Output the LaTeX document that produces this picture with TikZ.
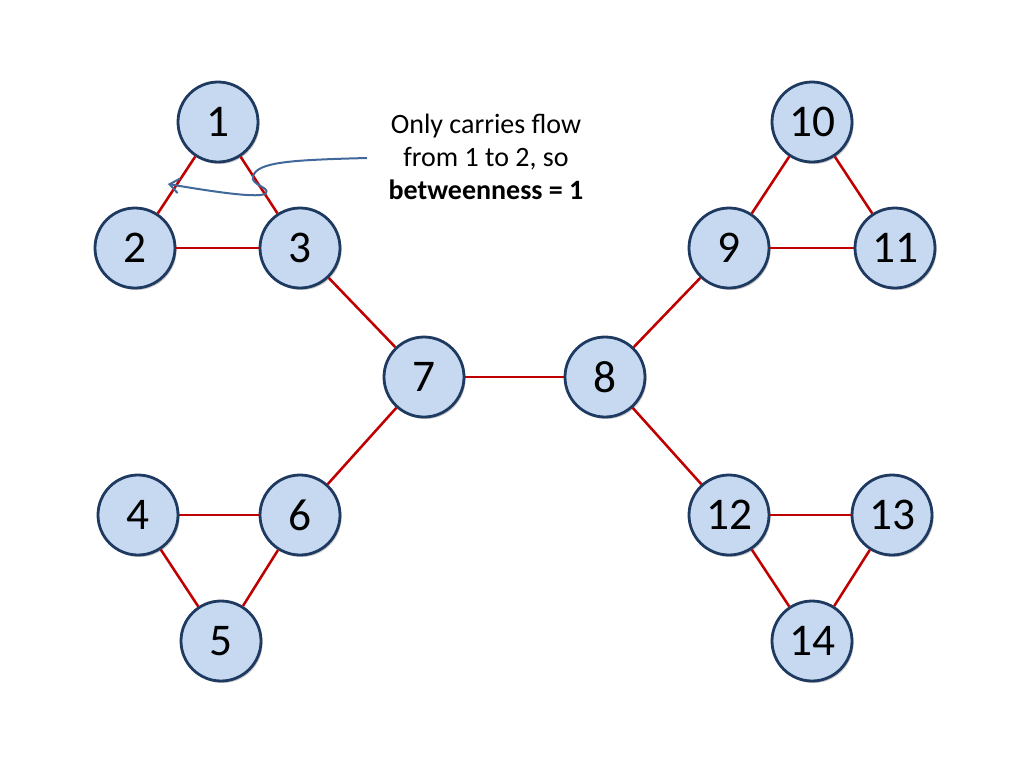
\documentclass[tikz,border=0pt]{standalone}
\usepackage{fontspec}
\setmainfont{Carlito}
\usepackage{tikz}
\usepackage{xcolor}
\usetikzlibrary{arrows.meta,shadows}
\definecolor{nodefill}{HTML}{C6D9F1}
\definecolor{nodeline}{HTML}{1F3A60}
\definecolor{edgered}{HTML}{C00000}
\definecolor{arrowblue}{HTML}{41689A}
\tikzset{%
  tipA/.tip={Straight Barb[length=7pt,width=11pt,line width=1.5pt]},
  vertex/.style={circle, draw=nodeline, fill=nodefill, line width=2.1pt,
    minimum size=60pt, inner sep=0pt, font=\fontsize{34}{40}\selectfont,
    drop shadow={shadow xshift=1.2pt, shadow yshift=-1.5pt, fill=black, opacity=0.22}},
  edge/.style={edgered, line width=1.9pt}
}

\begin{document}
\begin{tikzpicture}[x=0.75pt,y=-0.75pt]
\useasboundingbox (0,0) rectangle (1024,768);
% left triangles
\node[vertex] (n1) at (218,122) {1};
\node[vertex] (n2) at (135,248) {2};
\node[vertex] (n3) at (300,248) {3};
\node[vertex] (n4) at (138,515) {4};
\node[vertex] (n5) at (221,641) {5};
\node[vertex] (n6) at (300,515) {6};
% middle
\node[vertex] (n7) at (424,377) {7};
\node[vertex] (n8) at (605,377) {8};
% right triangles
\node[vertex] (n9) at (729,248) {9};
\node[vertex] (n10) at (812,122) {10};
\node[vertex] (n11) at (895,248) {11};
\node[vertex] (n12) at (729,515) {12};
\node[vertex] (n13) at (892,515) {13};
\node[vertex] (n14) at (812,641) {14};
\draw[edge] (n1)--(n2);
\draw[edge] (n1)--(n3);
\draw[edge] (n2)--(n3);
\draw[edge] (n3)--(n7);
\draw[edge] (n4)--(n6);
\draw[edge] (n4)--(n5);
\draw[edge] (n5)--(n6);
\draw[edge] (n6)--(n7);
\draw[edge] (n7)--(n8);
\draw[edge] (n8)--(n9);
\draw[edge] (n8)--(n12);
\draw[edge] (n9)--(n10);
\draw[edge] (n9)--(n11);
\draw[edge] (n10)--(n11);
\draw[edge] (n12)--(n13);
\draw[edge] (n12)--(n14);
\draw[edge] (n13)--(n14);
% annotation
\node[align=center, font=\fontsize{21}{24.75}\selectfont] (note) at (486,157)
  {Only carries flow\\from 1 to 2, so\\\textbf{betweenness = 1}};
\coordinate (notestart) at (367,158);
\coordinate (flowtip) at (168,184);
\draw[arrowblue, line width=1.5pt, -tipA] (notestart)
  .. controls (290,160) and (258,162) .. (253,176)
  .. controls (250,185) and (270,187) .. (266,193)
  .. controls (262,199) and (215,192) .. (flowtip);
\end{tikzpicture}
\end{document}
